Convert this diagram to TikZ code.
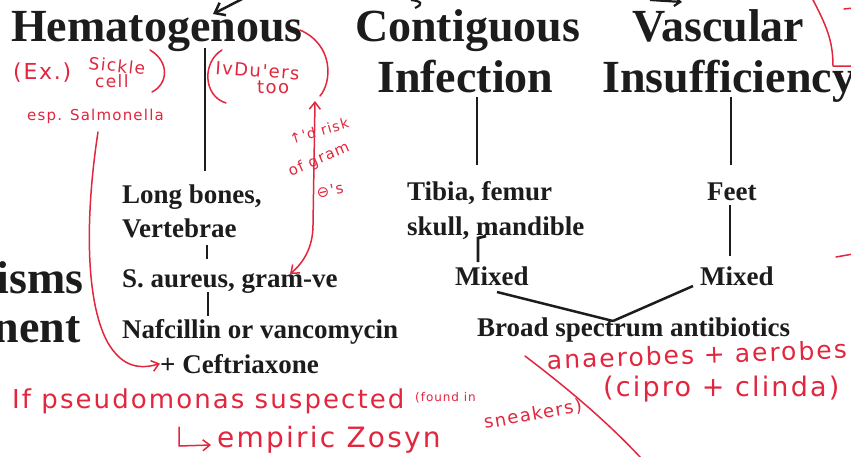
\documentclass[tikz,border=0pt]{standalone}
\usepackage{fontspec}
\setmainfont{Liberation Serif}
\newfontfamily\hand{DejaVu Sans}[LetterSpace=8]
\usetikzlibrary{arrows.meta}
\definecolor{ink}{RGB}{28,28,28}
\definecolor{pen}{RGB}{226,38,62}
\begin{document}
\begin{tikzpicture}[x=1pt,y=-1pt,
  head/.style={inner sep=0pt,anchor=base west,text=ink,font=\fontsize{46}{46}\selectfont\bfseries},
  body/.style={inner sep=0pt,anchor=base west,text=ink,font=\fontsize{27}{27}\selectfont\bfseries},
  conn/.style={draw=ink,line width=2.8pt},
  note/.style={inner sep=0pt,text=pen,font=\hand\fontsize{#1}{#1}\selectfont},
  note/.default=16,
  penline/.style={draw=pen,line width=1.5pt,line cap=round,line join=round},
  pentip/.style={-{Straight Barb[length=7pt,width=11pt]}},
  pentips/.style={{Straight Barb[length=7pt,width=11pt]}-{Straight Barb[length=7pt,width=11pt]}},
  inktip/.style={-{Straight Barb[length=9pt,width=14pt]}},
]
\useasboundingbox (0,0) rectangle (851,456);
\fill[white] (0,0) rectangle (851,456);
\clip (0,0) rectangle (851,456);

% ---------- printed headings ----------
\node[head] (hema) at (11,41) {Hematogenous};
\node[head] (cont) at (355,41) {Contiguous};
\node[head] (infe) at (377,92) {Infection};
\node[head] (vasc) at (632,41) {Vascular};
\node[head] (insu) at (602,92) {Insufficiency};
\node[head,anchor=base east] (orgs) at (84,293) {isms};
\node[head,anchor=base east] (trea) at (81,342) {nent};

% ---------- printed body ----------
\node[body] (lb) at (122,203) {Long bones,};
\node[body] (vt) at (122,237) {Vertebrae};
\node[body] (sa) at (122,287) {S. aureus, gram-ve};
\node[body] (nf) at (122,338) {Nafcillin or vancomycin};
\node[body] (cf) at (160,373) {+ Ceftriaxone};
\node[body] (tf) at (407,200) {Tibia, femur};
\node[body] (sm) at (407,235) {skull, mandible};
\node[body] (mx1) at (455,285) {Mixed};
\node[body] (ft) at (707,200) {Feet};
\node[body] (mx2) at (700,285) {Mixed};
\node[body] (bs) at (477,336) {Broad spectrum antibiotics};

% ---------- printed connectors ----------
\coordinate (hemaB) at (205,48);   \coordinate (lbT) at (205,171);
\coordinate (infeB) at (477,97);   \coordinate (tfT) at (477,165);
\coordinate (insuB) at (731,97);   \coordinate (ftT) at (731,165);
\coordinate (vtB) at (207,245);    \coordinate (saT) at (207,259);
\coordinate (saB) at (208,292);    \coordinate (nfT) at (208,316);
\coordinate (smB) at (478,262);    \coordinate (smT) at (478,238);
\coordinate (smK) at (486,236);
\coordinate (ftB) at (730,205);    \coordinate (mx2T) at (730,256);
\coordinate (mx1B) at (497,292);   \coordinate (bsT) at (613,321);
\coordinate (mx2B) at (693,286);
\draw[conn] (hemaB) -- (lbT);
\draw[conn] (infeB) -- (tfT);
\draw[conn] (insuB) -- (ftT);
\draw[conn] (vtB) -- (saT);
\draw[conn] (saB) -- (nfT);
\draw[conn] (smK) -- (smT) -- (smB);
\draw[conn] (ftB) -- (mx2T);
\draw[conn,line width=2.5pt] (mx1B) -- (bsT);
\draw[conn,line width=2.5pt] (mx2B) -- (bsT);

% cut-off arrows coming from above
\coordinate (hemaTip) at (213,14);
\coordinate (hemaTail) at (248,-4);
\draw[conn,line width=2.5pt,inktip] (hemaTail) -- (hemaTip);
\coordinate (contMark) at (411,0);
\coordinate (contMarkE) at (415,8);
\draw[conn,line width=2.2pt] (contMark) .. controls (421,1) and (424,4) .. (contMarkE);
\coordinate (vascTail) at (650,0);
\coordinate (vascTip) at (682,2);
\draw[conn,line width=2.2pt,-{Straight Barb[length=6pt,width=9pt]}] (vascTail) -- (vascTip);

% ---------- handwritten notes ----------
\node[note=22,anchor=base west] (ex) at (13,79) {(Ex.)};
\node[note=17,anchor=base west,rotate=-6] (sk) at (88,69) {Sickle};
\node[note=17,anchor=base west] (cl) at (95,87) {cell};
\node[note=15,anchor=base west] (sal) at (27,120) {esp. Salmonella};
\coordinate (skP1) at (150,50); \coordinate (skP2) at (152,92);
\draw[penline] (skP1) .. controls (170,62) and (168,84) .. (skP2);

\node[note=18,anchor=base west,rotate=-4] (iv) at (215,74) {IvDu'ers};
\node[note=18,anchor=base west] (too) at (257,93) {too};
\coordinate (ivP1) at (222,50); \coordinate (ivP2) at (226,103);
\draw[penline] (ivP1) .. controls (202,62) and (203,96) .. (ivP2);
\coordinate (tooP1) at (300,30); \coordinate (tooP2) at (320,96);
\draw[penline] (tooP1) .. controls (334,45) and (332,82) .. (tooP2);

\node[note=14,rotate=16] (rk1) at (319,131) {↑'d risk};
\node[note=15,rotate=23] (rk2) at (319,160) {of gram};
\node[note=15,rotate=12] (rk3) at (330,190) {⊖'s};
\coordinate (tooB) at (315,101);
\coordinate (saR) at (290,274);
\draw[penline,pentips] (tooB) -- (313,225) .. controls (313,248) and (303,263) .. (saR);

\coordinate (salS) at (98,132);
\draw[penline,pentip] (salS) .. controls (86,210) and (84,300) .. (108,343) .. controls (120,363) and (135,371) .. (cf.west);

\node[note=26,anchor=base west] (ps) at (12,408) {If pseudomonas suspected};
\node[note=12,anchor=base west] (fi) at (415,401) {(found in};
\node[note=18,anchor=base west,rotate=10] (sn) at (485,429) {sneakers)};
\node[note=28,anchor=base west] (zo) at (217,447) {empiric Zosyn};
\coordinate (hkT) at (179,427);
\coordinate (hkC) at (179,446);
\coordinate (hkE) at (211,445);
\draw[penline,pentip] (hkT) -- (hkC) -- (hkE);

\node[note=25,anchor=base west,rotate=2] (an) at (547,369) {anaerobes + aerobes};
\node[note=27,anchor=base west] (ci) at (603,396) {(cipro + clinda)};
\coordinate (slA) at (525,356); \coordinate (slB) at (641,458);
\draw[penline] (slA) .. controls (575,394) and (610,425) .. (slB);

\coordinate (trA) at (812,-2); \coordinate (trB) at (853,66);
\draw[penline] (trA) .. controls (826,25) and (833,40) .. (833,66) -- (trB);
\coordinate (dA) at (844,9); \coordinate (dB) at (853,8);
\draw[penline] (dA) -- (dB);
\coordinate (eA) at (836,257); \coordinate (eB) at (853,254);
\draw[penline] (eA) -- (eB);
\end{tikzpicture}
\end{document}
